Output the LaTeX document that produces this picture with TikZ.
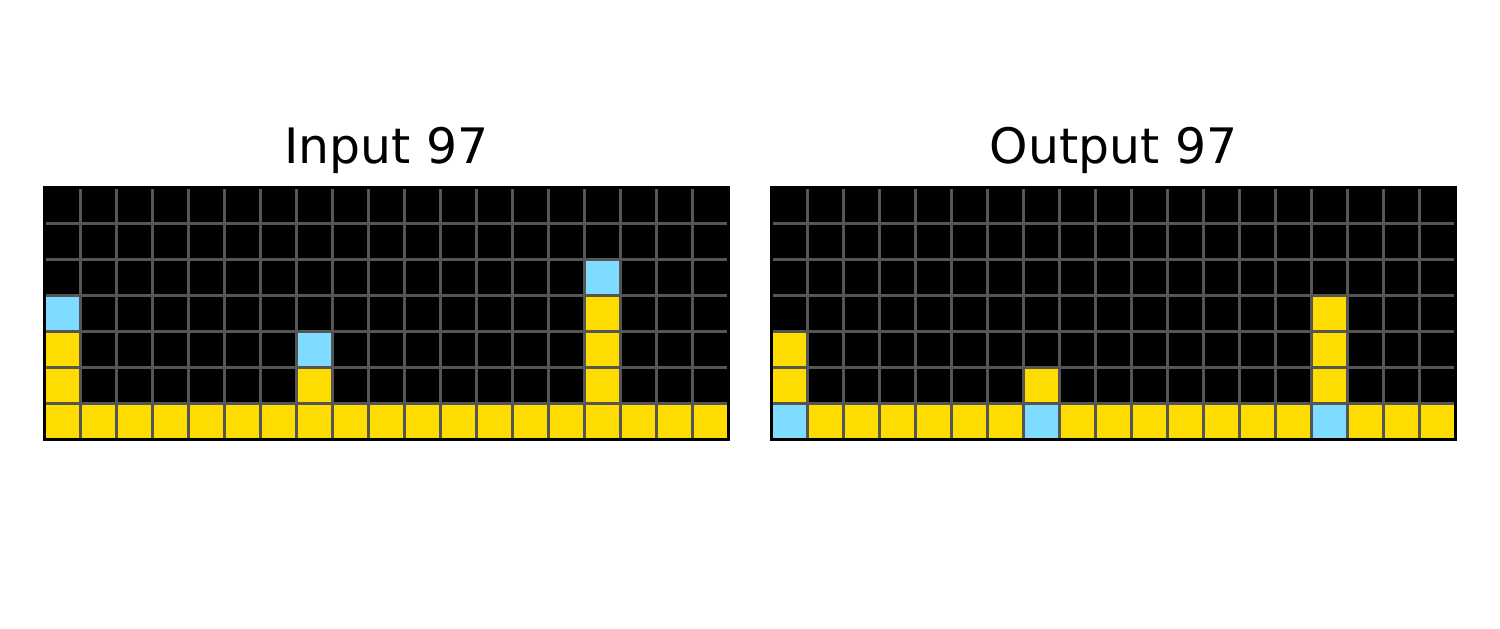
\documentclass[tikz,border=0pt]{standalone}
\usepackage{fontspec}
\setmainfont{DejaVu Sans}
\definecolor{arcyellow}{HTML}{FFDC00}
\definecolor{arcblue}{HTML}{7FDBFF}
\definecolor{arcgray}{HTML}{555555}
\begin{document}
\begin{tikzpicture}[x=0.36cm,y=0.36cm]

    \tikzset{
      ylw/.style={fill=arcyellow},
      blu/.style={fill=arcblue},
      gridline/.style={color=arcgray,line width=1pt},
      frame/.style={draw=black,line width=1pt},
      title/.style={anchor=base,inner sep=0pt,font=\fontsize{13.9}{16}\selectfont},
    }
    \useasboundingbox (0,0) rectangle (41.667,17.472);
	\node[title] (tin) at (10.736,12.92) {Input 97};
	\node[title] (tout) at (30.931,12.92) {Output 97};
	% input grid
	\begin{scope}[shift={(1.236,5.264)}]
	\fill[black] (0,0) rectangle (19,7);
	\fill[ylw] (0,0) rectangle (19,1);
	\fill[ylw] (0,1) rectangle (1,3);\fill[blu] (0,3) rectangle (1,4);
	\fill[ylw] (7,1) rectangle (8,2);\fill[blu] (7,2) rectangle (8,3);
	\fill[ylw] (15,1) rectangle (16,4);\fill[blu] (15,4) rectangle (16,5);
	\foreach \i in {1,...,18} \draw[gridline] (\i,0)--(\i,7);
	\foreach \j in {1,...,6} \draw[gridline] (0,\j)--(19,\j);
	\draw[frame] (0,0) rectangle (19,7);
	\end{scope}
	% output grid
	\begin{scope}[shift={(21.431,5.264)}]
	\fill[black] (0,0) rectangle (19,7);
	\fill[ylw] (0,0) rectangle (19,1);
	\fill[blu] (0,0) rectangle (1,1);\fill[ylw] (0,1) rectangle (1,3);
	\fill[blu] (7,0) rectangle (8,1);\fill[ylw] (7,1) rectangle (8,2);
	\fill[blu] (15,0) rectangle (16,1);\fill[ylw] (15,1) rectangle (16,4);
	\foreach \i in {1,...,18} \draw[gridline] (\i,0)--(\i,7);
	\foreach \j in {1,...,6} \draw[gridline] (0,\j)--(19,\j);
	\draw[frame] (0,0) rectangle (19,7);
	\end{scope}

\end{tikzpicture}
\end{document}
